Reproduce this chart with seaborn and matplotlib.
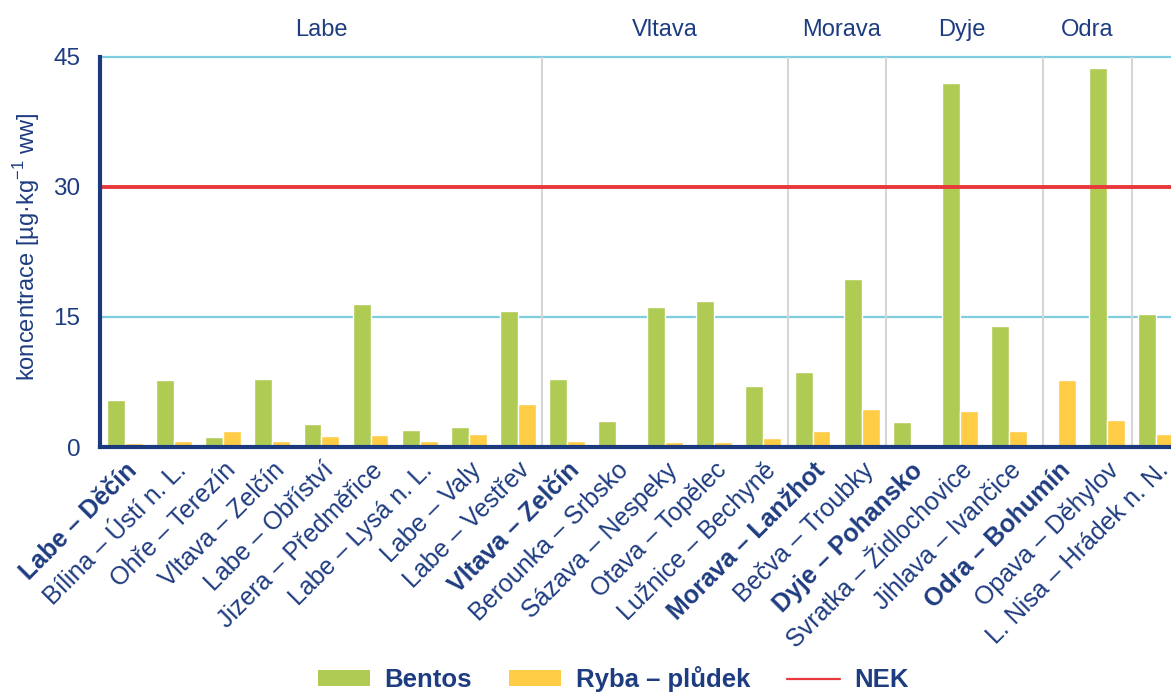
import numpy as np
import pandas as pd
import matplotlib
matplotlib.use("Agg")
import matplotlib.pyplot as plt
import matplotlib.transforms as mtransforms
from matplotlib.patches import Patch
from matplotlib.lines import Line2D
import seaborn as sns

# --- data ---------------------------------------------------------------
profily = [
    "Labe – Děčín", "Bílina – Ústí n. L.", "Ohře – Terezín", "Vltava – Zelčín",
    "Labe – Obříství", "Jizera – Předměřice", "Labe – Lysá n. L.", "Labe – Valy",
    "Labe – Vestřev", "Vltava – Zelčín", "Berounka – Srbsko", "Sázava – Nespeky",
    "Otava – Topělec", "Lužnice – Bechyně", "Morava – Lanžhot", "Bečva – Troubky",
    "Dyje – Pohansko", "Svratka – Židlochovice", "Jihlava – Ivančice",
    "Odra – Bohumín", "Opava – Děhylov", "L. Nisa – Hrádek n. N.",
]
# closing profiles of the main rivers (printed in bold)
zaverecne = [0, 9, 14, 16, 19]

bentos = [5.4, 7.7, 1.2, 7.8, 2.6, 16.5, 2.0, 2.3, 15.7, 7.9, 3.0, 16.2,
          16.9, 7.0, 8.7, 19.4, 2.9, 42.0, 14.0, np.nan, 43.7, 15.3]
ryba = [0.5, 0.7, 1.9, 0.7, 1.3, 1.4, 0.65, 1.45, 5.0, 0.65, 0.15, 0.6,
        0.55, 1.05, 1.8, 4.35, 0.4, 4.2, 1.9, 7.7, 3.1, 1.45]
nek = 30

povodi = ["Labe", "Vltava", "Morava", "Dyje", "Odra"]
serie = ["Bentos", "Ryba – plůdek"]

# --- styling --------------------------------------------------------------
ZELENA = "#B0CB54"
ZLUTA = "#FFCC45"
CERVENA = "#E8383B"
MODRA = "#1E3C80"
SPINE = "#1B3A7D"
AZUR = "#7DCFE0"
SEDA = "#D6D6D6"

sns.set_style("white")
plt.rcParams["font.family"] = ["Liberation Sans", "DejaVu Sans"]
plt.rcParams["mathtext.fontset"] = "custom"
plt.rcParams["mathtext.rm"] = "Liberation Sans"

df = pd.DataFrame({
    "poradi": list(range(len(profily))) * 2,
    "koncentrace": bentos + ryba,
    "matrice": [serie[0]] * len(profily) + [serie[1]] * len(profily),
})

fig = plt.figure(figsize=(11.71, 6.93), dpi=100)
ax = fig.add_axes([100 / 1171, (693 - 447) / 693, 1071 / 1171, 390 / 693])

sns.barplot(data=df, x="poradi", y="koncentrace", hue="matrice",
            hue_order=serie, palette=[ZELENA, ZLUTA], width=0.73,
            saturation=1, legend=False, ax=ax, zorder=3)

ax.set_xlim(-0.51, 21.3)
ax.set_ylim(0, 45)
ax.set_yticks([0, 15, 30, 45])

# horizontal guides and the environmental quality standard
for yv in (15, 45):
    ax.axhline(yv, color=AZUR, lw=1.6, zorder=1, clip_on=False)
ax.axhline(nek, color=CERVENA, lw=2.8, zorder=4)

# river-basin separators and headings
for xs in (8.5, 13.5, 15.5, 18.7, 20.5):
    ax.axvline(xs, color=SEDA, lw=1.5, zorder=2)
pozice_povodi = [4.0, 11.0, 14.6, 17.05, 19.6]
trans = mtransforms.blended_transform_factory(ax.transData, ax.transAxes)
for nazev, xp in zip(povodi, pozice_povodi):
    ax.text(xp, 1.07, nazev, transform=trans, ha="center", va="center",
            fontsize=17, color=MODRA)

# axes
for s in ("top", "right"):
    ax.spines[s].set_visible(False)
for s in ("left", "bottom"):
    ax.spines[s].set_color(SPINE)
    ax.spines[s].set_linewidth(3)
    ax.spines[s].set_zorder(5)

ax.tick_params(axis="y", length=0, pad=14, labelsize=17.5, labelcolor=MODRA)
ax.tick_params(axis="x", length=0, pad=8)
ax.set_xticks(range(len(profily)))
ax.set_xticklabels(profily, rotation=45, ha="right", va="top",
                   rotation_mode="anchor", fontsize=18, color=MODRA)
for i, lab in enumerate(ax.get_xticklabels()):
    if i in zaverecne:
        lab.set_fontweight("bold")

ax.set_xlabel("")
ax.set_ylabel(r"koncentrace [µg·kg$^{\mathregular{-1}}$ ww]", fontsize=17,
              color=MODRA)
ax.yaxis.set_label_coords(-0.054, 0.513)

handles = [Patch(facecolor=ZELENA, edgecolor="none"),
           Patch(facecolor=ZLUTA, edgecolor="none"),
           Line2D([0], [0], color=CERVENA, lw=1.6)]
leg = fig.legend(handles, serie + ["NEK"], loc="center",
                 bbox_to_anchor=(613 / 1171, 1 - 679 / 693), ncol=3,
                 frameon=False, handlelength=2.04, handleheight=0.56,
                 handletextpad=0.56, columnspacing=1.44,
                 prop={"size": 18.5, "weight": "bold"})
for t in leg.get_texts():
    t.set_color(MODRA)

fig.savefig("out.png", dpi=100)
